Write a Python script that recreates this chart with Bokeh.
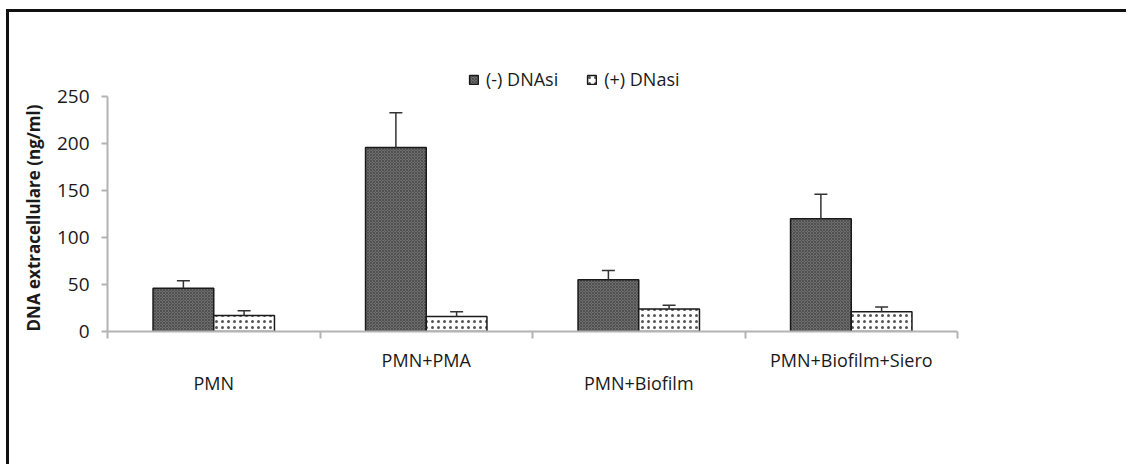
from bokeh.plotting import figure
from bokeh.models import (ColumnDataSource, Range1d, LinearAxis, FixedTicker,
                          Whisker, TeeHead, Legend, LegendItem, Title)
from bokeh.embed import file_html
from bokeh.resources import INLINE

# Extracellular DNA (ng/ml) per condition, without and with DNase
categories = ["PMN", "PMN+PMA", "PMN+Biofilm", "PMN+Biofilm+Siero"]
minus_dnase = [46, 196, 55, 120]
minus_err = [8, 37, 10, 26]
plus_dnase = [17, 16, 24, 21]
plus_err = [5, 5, 4, 5]
y_ticks = [0, 50, 100, 150, 200, 250]

FONT = "Open Sans"
AXIS_GRAY = "#b3b3b3"
TEXT = "#1a1a1a"

n = len(categories)
bar_w = 1 / 3.5          # two bars plus a 150% gap per category
idx = list(range(n))

src_minus = ColumnDataSource(dict(
    x=[i + 0.5 - bar_w / 2 for i in idx],
    top=minus_dnase,
    upper=[v + e for v, e in zip(minus_dnase, minus_err)],
))
src_plus = ColumnDataSource(dict(
    x=[i + 0.5 + bar_w / 2 for i in idx],
    top=plus_dnase,
    upper=[v + e for v, e in zip(plus_dnase, plus_err)],
))

# headroom above 250 holds the legend
p = figure(width=1120, height=455, output_backend="svg", toolbar_location=None,
           x_range=Range1d(0, n), y_range=Range1d(0, 280),
           x_axis_type=None, y_axis_type=None,
           min_border_left=98, min_border_right=172,
           min_border_top=56, min_border_bottom=136)
p.outline_line_color = None
p.background_fill_color = "white"
p.border_fill_color = "white"
# page frame: heavy rule along the top and left edges
p.styles = {"margin-left": "6px", "margin-top": "9px",
            "border-left": "3px solid #111111", "border-top": "3px solid #111111"}

r_minus = p.vbar(x="x", top="top", bottom=0, width=bar_w, source=src_minus,
                 fill_color="#6e6e6e", line_color="#1a1a1a", line_width=1.5,
                 hatch_pattern="diagonal_cross", hatch_scale=3, hatch_weight=0.6,
                 hatch_color="#3c3c3c")
r_plus = p.vbar(x="x", top="top", bottom=0, width=bar_w, source=src_plus,
                fill_color="white", line_color="#1a1a1a", line_width=1.5,
                hatch_pattern="dot", hatch_scale=6, hatch_weight=1,
                hatch_color="#555555")

for src in (src_minus, src_plus):
    p.add_layout(Whisker(source=src, base="x", lower="top", upper="upper",
                         dimension="height", line_color="#333333", line_width=1.5,
                         upper_head=TeeHead(size=13, line_color="#333333", line_width=1.5),
                         lower_head=None, level="overlay"))

# value axis (line and ticks stop at 250)
yax = LinearAxis(ticker=FixedTicker(ticks=y_ticks), bounds=(0, 250))
yax.axis_line_color = AXIS_GRAY
yax.axis_line_width = 2
yax.major_tick_line_color = AXIS_GRAY
yax.major_tick_line_width = 2
yax.major_tick_out = 6
yax.major_tick_in = 0
yax.minor_tick_line_color = None
yax.major_label_standoff = 12
yax.major_label_text_font = FONT
yax.major_label_text_font_size = "19px"
yax.major_label_text_color = TEXT
p.add_layout(yax, "left")

# axis title, starting at the zero line and running upward
p.add_layout(Title(text="DNA extracellulare (ng/ml)", align="left", offset=0,
                   standoff=18, text_font=FONT, text_font_size="17px",
                   text_font_style="bold", text_color=TEXT), "left")

# category axis: boundary ticks plus the upper row of labels
upper_ticks = [i + 0.5 for i in idx if i % 2 == 1]
lower_ticks = [i + 0.5 for i in idx if i % 2 == 0]
xax1 = LinearAxis(ticker=FixedTicker(ticks=upper_ticks, minor_ticks=list(range(n + 1))),
                  major_label_overrides={t: categories[int(t)] for t in upper_ticks})
xax1.axis_line_color = AXIS_GRAY
xax1.axis_line_width = 2
xax1.major_tick_line_color = None
xax1.major_tick_out = 0
xax1.major_tick_in = 0
xax1.minor_tick_line_color = AXIS_GRAY
xax1.minor_tick_line_width = 2
xax1.minor_tick_out = 7
xax1.minor_tick_in = 0
xax1.major_label_standoff = 9
xax1.major_label_text_font = FONT
xax1.major_label_text_font_size = "18px"
xax1.major_label_text_color = TEXT
p.add_layout(xax1, "below")

# lower row of staggered category labels
xax2 = LinearAxis(ticker=FixedTicker(ticks=lower_ticks),
                  major_label_overrides={t: categories[int(t)] for t in lower_ticks})
xax2.axis_line_color = None
xax2.major_tick_line_color = None
xax2.minor_tick_line_color = None
xax2.major_tick_out = 0
xax2.major_tick_in = 0
xax2.major_label_standoff = -4
xax2.major_label_text_font = FONT
xax2.major_label_text_font_size = "18px"
xax2.major_label_text_color = TEXT
p.add_layout(xax2, "below")

legend = Legend(items=[LegendItem(label="(-) DNAsi", renderers=[r_minus]),
                       LegendItem(label="(+) DNasi", renderers=[r_plus])],
                orientation="horizontal", location=(361, 240),
                glyph_width=11, glyph_height=11, label_standoff=7, spacing=28,
                padding=0, margin=0, border_line_color=None,
                background_fill_alpha=0, label_text_font=FONT,
                label_text_font_size="18px", label_text_color=TEXT)
p.add_layout(legend)

open("out.html", "w").write(file_html(p, INLINE))
